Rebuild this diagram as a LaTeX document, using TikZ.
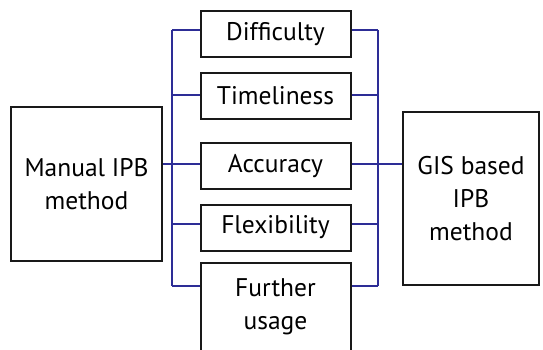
\documentclass[tikz,border=0pt]{standalone}
\usepackage{fontspec}
\setmainfont{PT Sans}
\definecolor{busblue}{RGB}{45,45,150}
\tikzset{
  box/.style={draw=black!90, line width=2pt, align=center, inner sep=0pt,
    font=\fontsize{25.5}{33}\selectfont},
  crit/.style={box, minimum width=150pt, minimum height=46pt},
  link/.style={draw=busblue, line width=2pt},
}

\begin{document}
\begin{tikzpicture}[x=1pt,y=-1pt]
  \useasboundingbox (0,0) rectangle (543,350);
  \clip (0,0) rectangle (543,350);
  % the two methods
  \node[box, minimum width=151pt, minimum height=154pt] (manual) at (86.5,184) {Manual IPB\\method};
  \node[box, minimum width=136pt, minimum height=173pt] (gis) at (471,198.5) {GIS based\\IPB\\method};
  % criteria
  \node[crit] (diff) at (275.5,34) {Difficulty};
  \node[crit] (time) at (275.5,96) {Timeliness};
  \node[crit] (acc) at (275.5,166) {Accuracy};
  \node[crit] (flex) at (275.5,227.5) {Flexibility};
  \node[crit, minimum height=88pt] (further) at (275.5,307) {Further\\usage};
  % bus lines
  \foreach \i/\y in {1/30,2/95,3/164,4/224,5/286} {
    \coordinate (l\i) at (172,\y);
    \coordinate (r\i) at (378,\y);
  }
  \draw[link] (l1) -- (l5);
  \draw[link] (r1) -- (r5);
  \draw[link] (l3) -- (l3 -| manual.east);
  \draw[link] (r3) -- (r3 -| gis.west);
  \foreach \i/\n in {1/diff,2/time,3/acc,4/flex,5/further} {
    \draw[link] (l\i) -- (l\i -| \n.west);
    \draw[link] (r\i) -- (r\i -| \n.east);
  }
\end{tikzpicture}
\end{document}
